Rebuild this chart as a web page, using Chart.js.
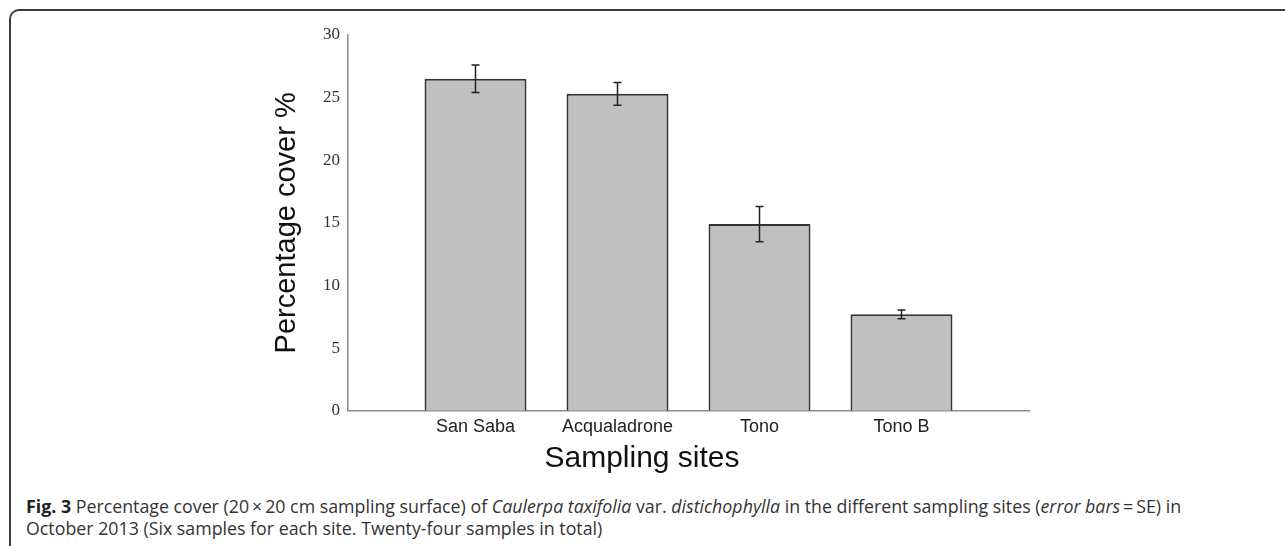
<!DOCTYPE html>
<html>
<head>
<meta charset="utf-8">
<script src="https://cdn.jsdelivr.net/npm/chart.js@4.4.1/dist/chart.umd.min.js"></script>
<style>
  html, body { margin: 0; padding: 0; background: #fff; }
  body { width: 1285px; height: 546px; position: relative; overflow: hidden; }
  #frame {
    position: absolute; left: 9px; top: 9px; width: 1400px; height: 700px;
    border-top: 2px solid #3c3c3c; border-left: 2px solid #3c3c3c;
    border-top-left-radius: 10px;
  }
  #wrap { position: absolute; left: 0; top: 0; width: 1285px; height: 480px; }
  #caption {
    position: absolute; left: 26px; top: 495px; white-space: nowrap;
    font-family: "Open Sans", sans-serif; font-size: 17.8px; line-height: 22px; color: #333;
  }
  #caption b { color: #222; }
</style>
</head>
<body>
<div id="frame"></div>
<div id="wrap"><canvas id="coverChart"></canvas></div>
<div id="caption"><b>Fig. 3</b> Percentage cover (20&#8201;×&#8201;20 cm sampling surface) of <i>Caulerpa taxifolia</i> var. <i>distichophylla</i> in the different sampling sites (<i>error bars</i>&#8201;=&#8201;SE) in<br>October 2013 (Six samples for each site. Twenty-four samples in total)</div>
<script>
const sites = ["San Saba", "Acqualadrone", "Tono", "Tono B"];
const coverMean = [26.5, 25.3, 14.9, 7.7];
const coverSE = [1.1, 0.9, 1.4, 0.35];
const yTickValues = [0, 5, 10, 15, 20, 25, 30];

// whiskers drawn from the y scale, one per bar
const errorBars = {
    id: "errorBars",
    afterDatasetsDraw(chart) {
        const { ctx, scales: { y } } = chart;
        const bars = chart.getDatasetMeta(0).data;
        ctx.save();
        ctx.strokeStyle = "#222";
        ctx.lineWidth = 1.5;
        bars.forEach((bar, i) => {
            const hi = y.getPixelForValue(coverMean[i] + coverSE[i]);
            const lo = y.getPixelForValue(coverMean[i] - coverSE[i]);
            ctx.beginPath();
            ctx.moveTo(bar.x, hi);
            ctx.lineTo(bar.x, lo);
            ctx.moveTo(bar.x - 4, hi);
            ctx.lineTo(bar.x + 4, hi);
            ctx.moveTo(bar.x - 4, lo);
            ctx.lineTo(bar.x + 4, lo);
            ctx.stroke();
        });
        ctx.restore();
    }
};

const ctx = document.getElementById("coverChart").getContext("2d");
new Chart(ctx, {
    type: "bar",
    data: {
        datasets: [{
            data: coverMean.map((v, i) => ({ x: i, y: v })),
            backgroundColor: "#c0c0c0",
            borderColor: "#333",
            borderWidth: 2,
            categoryPercentage: 1,
            barPercentage: 0.718
        }]
    },
    plugins: [errorBars],
    options: {
        responsive: true,
        maintainAspectRatio: false,
        animation: false,
        layout: { padding: { left: 255, right: 256, top: 35, bottom: 0 } },
        plugins: {
            legend: { display: false },
            tooltip: { enabled: false },
            title: {
                display: true,
                position: "bottom",
                text: "Sampling sites",
                color: "#111",
                font: { family: "Liberation Sans", size: 30, weight: "normal" },
                padding: { top: 0, bottom: 3 }
            }
        },
        scales: {
            x: {
                type: "linear",
                offset: false,
                min: -0.898,
                max: 3.898,
                grid: { display: false, drawTicks: false },
                border: { color: "#8c8c8c", width: 1.5 },
                ticks: {
                    stepSize: 1,
                    includeBounds: false,
                    autoSkip: false,
                    maxRotation: 0,
                    padding: 6,
                    color: "#222",
                    font: { family: "Liberation Sans", size: 18 },
                    callback: v => Number.isInteger(v) ? sites[v] : ""
                },
                afterFit: s => { s.height = 30.3; }
            },
            y: {
                min: 0,
                max: 30,
                afterBuildTicks: s => { s.ticks = yTickValues.map(v => ({ value: v })); },
                grid: { display: false, drawTicks: false },
                border: { color: "#8c8c8c", width: 1.5 },
                ticks: {
                    padding: 8,
                    color: "#333",
                    font: { family: "Liberation Serif", size: 17 }
                },
                title: {
                    display: true,
                    text: "Percentage cover %",
                    color: "#111",
                    font: { family: "Liberation Sans", size: 29 },
                    padding: { top: 15, bottom: 0 }
                },
                afterFit: s => { s.width = 93; }
            }
        }
    }
});
</script>
</body>
</html>
